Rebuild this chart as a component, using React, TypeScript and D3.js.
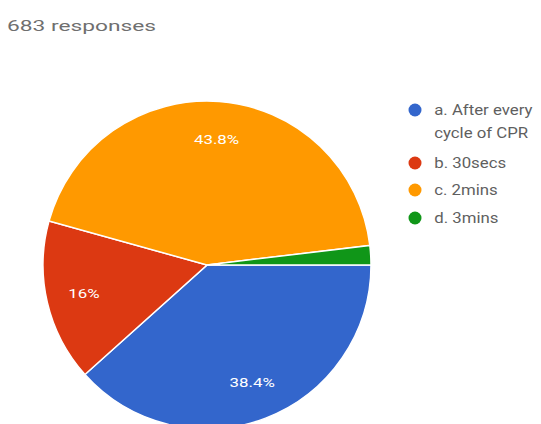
import React from "react";
import * as d3 from "d3";

const categories = ["a. After every cycle of CPR", "b. 30secs", "c. 2mins", "d. 3mins"];
const legendLines = [["a. After every", "cycle of CPR"], ["b. 30secs"], ["c. 2mins"], ["d. 3mins"]];
const counts = [262, 109, 299, 13];
const colors = ["#3366cc", "#dc3912", "#ff9900", "#109618"];
const title = "683 responses";

const W = 541, H = 424;
const cx = 207, cy = 265, R = 164;

export default function App() {
  const total = d3.sum(counts);
  const pie = d3.pie<number>().sort(null).startAngle(Math.PI / 2).endAngle(Math.PI / 2 + 2 * Math.PI);
  const arcs = pie(counts);
  const arc = d3.arc<d3.PieArcDatum<number>>().innerRadius(0).outerRadius(R);
  const labelArc = d3.arc<d3.PieArcDatum<number>>().innerRadius(R * 0.77).outerRadius(R * 0.77);
  const fmt = (v: number) => {
    const p = Math.round((v / total) * 1000) / 10;
    return (p % 1 === 0 ? p.toFixed(0) : p.toFixed(1)) + "%";
  };
  const legendY = [110, 163, 190, 218];
  return (
    <svg width={W} height={H} style={{ position: "absolute", left: 0, top: 0 }}>
      <text x={7} y={31} fontFamily="Roboto, Arial, sans-serif" fontSize={15} fill="#6f6f6f" textLength={149} lengthAdjust="spacingAndGlyphs">{title}</text>
      <g transform={`translate(${cx},${cy})`}>
        {arcs.map((a, i) => (
          <path key={i} d={arc(a) || ""} fill={colors[i]} stroke="#ffffff" strokeWidth={1.5} />
        ))}
        {arcs.map((a, i) => {
          if (a.value / total < 0.05) return null;
          const [x, y] = labelArc.centroid(a);
          return (
            <g key={i} transform={`translate(${x},${y}) scale(1.3,1)`}>
              <text dy="0.35em" textAnchor="middle" fontFamily="Roboto, Arial, sans-serif" fontSize={13} fill="#ffffff">{fmt(a.value)}</text>
            </g>
          );
        })}
      </g>
      {categories.map((c, i) => (
        <g key={c} transform={`translate(415,${legendY[i]})`}>
          <circle r={6.5} fill={colors[i]} />
          {legendLines[i].map((line, j) => (
            <text key={j} x={16} y={j * 23} dy="0.35em" fontFamily="Roboto, Arial, sans-serif" fontSize={14} fill="#5f5f5f" transform="scale(1.2,1)">{line}</text>
          ))}
        </g>
      ))}
    </svg>
  );
}
